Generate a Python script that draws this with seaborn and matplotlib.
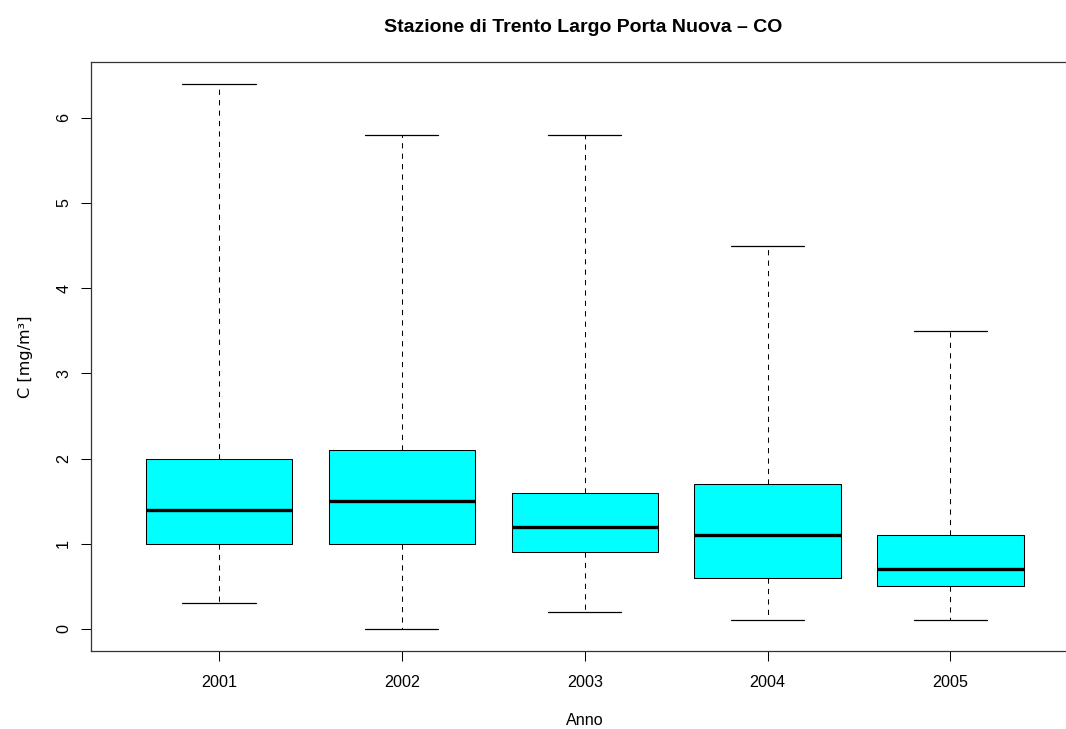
import numpy as np
import pandas as pd
import matplotlib
matplotlib.use("Agg")
import matplotlib.pyplot as plt
import seaborn as sns

years = ["2001", "2002", "2003", "2004", "2005"]
whisk_low = [0.3, 0.0, 0.2, 0.1, 0.1]
q1 = [1.0, 1.0, 0.9, 0.6, 0.5]
median = [1.4, 1.5, 1.2, 1.1, 0.7]
q3 = [2.0, 2.1, 1.6, 1.7, 1.1]
whisk_high = [6.4, 5.8, 5.8, 4.5, 3.5]
yticks = [0, 1, 2, 3, 4, 5, 6]

rows = []
for i, y in enumerate(years):
    for v in (whisk_low[i], q1[i], median[i], q3[i], whisk_high[i]):
        rows.append({"Anno": y, "C": v})
df = pd.DataFrame(rows)

sns.set_style("white")
plt.rcParams["font.family"] = ["Liberation Sans", "DejaVu Sans"]
plt.rcParams["text.color"] = "black"
plt.rcParams["axes.labelcolor"] = "black"
plt.rcParams["xtick.color"] = "black"
plt.rcParams["ytick.color"] = "black"

fig = plt.figure(figsize=(10.66, 7.29), dpi=100)
ax = fig.add_axes([91 / 1066, 1 - 650.8 / 729, (1078.5 - 91) / 1066, (650.8 - 61.9) / 729])

sns.boxplot(
    data=df, x="Anno", y="C", order=years, ax=ax,
    color="#00FFFF", saturation=1, width=0.8, whis=(0, 100),
    linecolor="black", linewidth=0.75, showfliers=False,
    medianprops={"linewidth": 2.4, "color": "black"},
    whiskerprops={"linestyle": (0, (5, 5)), "linewidth": 0.75, "color": "black"},
    capprops={"linewidth": 0.9, "color": "black"},
    boxprops={"edgecolor": "black", "linewidth": 0.75},
)

ax.set_xlim(-0.7, 4.7)
ax.set_ylim(-0.256, 6.656)
ax.set_yticks(yticks)
ax.set_yticklabels([str(t) for t in yticks], rotation=90, va="center")
ax.tick_params(axis="both", which="major", length=7.3, width=0.75, color="black",
               labelsize=11.6, direction="out", bottom=True, left=True)
ax.tick_params(axis="x", pad=10)
ax.tick_params(axis="y", pad=7)
for s in ax.spines.values():
    s.set_visible(True)
    s.set_color("#333333")
    s.set_linewidth(0.9)

ax.set_xlabel("Anno", fontsize=11.6, labelpad=17)
ax.set_ylabel("C [mg/m³]", fontsize=11.6, labelpad=17, family="DejaVu Sans")
fig.text(583.5 / 1066, 1 - 28 / 729, "Stazione di Trento Largo Porta Nuova – CO",
         ha="center", va="center", fontsize=14, fontweight="bold")

fig.savefig("out.png", dpi=100)
